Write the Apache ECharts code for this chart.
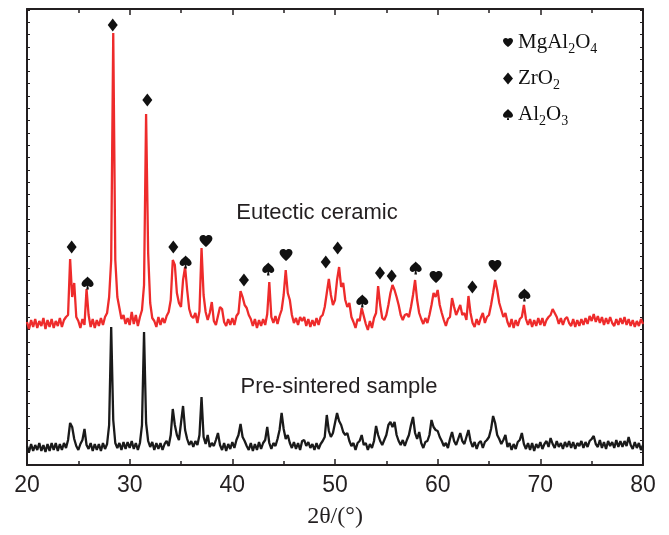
<!DOCTYPE html>
<html>
<head>
<meta charset="utf-8">
<script src="https://cdn.jsdelivr.net/npm/echarts@6/dist/echarts.min.js"></script>
<style>
html, body { margin: 0; padding: 0; background: #fff; }
#chart { width: 669px; height: 535px; }
</style>
</head>
<body>
<div id="chart"></div>
<script>
// 2θ sampling of the scans (degrees)
const thetaStart = 20
const thetaStep = 0.2

// Eutectic ceramic, intensity (arb. units), one value per 0.2°
const eutectic = [
  143, 136, 145, 138, 146, 137, 144, 139, 147, 136,
  145, 138, 146, 137, 144, 139, 147, 138, 145, 148,
  150, 206, 168, 182, 148, 144, 137, 146, 140, 176,
  150, 138, 146, 137, 145, 139, 147, 140, 148, 152,
  168, 205, 432, 205, 168, 157, 146, 150, 141, 147,
  140, 153, 141, 150, 139, 148, 155, 180, 351, 212,
  162, 147, 144, 138, 148, 140, 147, 142, 149, 153,
  165, 205, 200, 172, 162, 158, 185, 198, 175, 156,
  149, 147, 152, 142, 154, 217, 170, 153, 145, 152,
  163, 144, 140, 149, 158, 156, 143, 139, 146, 140,
  147, 140, 149, 152, 174, 168, 160, 157, 150, 146,
  139, 146, 137, 145, 139, 146, 140, 151, 183, 148,
  142, 149, 141, 149, 155, 170, 195, 172, 165, 150,
  142, 147, 140, 148, 144, 148, 139, 146, 138, 145,
  139, 147, 140, 148, 150, 158, 172, 186, 170, 160,
  165, 185, 198, 178, 182, 165, 158, 162, 148, 143,
  137, 146, 144, 157, 149, 141, 135, 144, 137, 147,
  152, 179, 160, 147, 145, 150, 160, 172, 180, 175,
  168, 160, 150, 145, 150, 151, 148, 158, 170, 185,
  165, 152, 146, 141, 147, 142, 150, 160, 172, 168,
  175, 160, 152, 145, 139, 146, 148, 167, 158, 150,
  155, 160, 150, 152, 145, 169, 152, 142, 138, 146,
  140, 147, 152, 142, 148, 150, 160, 172, 185, 175,
  162, 155, 148, 152, 143, 138, 146, 137, 145, 139,
  146, 148, 160, 146, 140, 146, 138, 145, 139, 147,
  140, 147, 139, 145, 148, 150, 156, 152, 148, 141,
  147, 140, 146, 148, 142, 139, 146, 138, 145, 139,
  146, 140, 147, 141, 149, 144, 151, 143, 149, 142,
  148, 140, 147, 141, 148, 142, 139, 146, 140, 147,
  141, 148, 140, 146, 139, 145, 138, 144, 139, 146,
  141
]

// Pre-sintered sample, intensity (arb. units), one value per 0.2°
const presintered = [
  19, 13, 21, 14, 20, 15, 22, 14, 20, 13,
  21, 14, 22, 15, 22, 14, 21, 15, 22, 17,
  25, 42, 38, 26, 19, 15, 21, 25, 36, 20,
  16, 22, 14, 21, 15, 21, 14, 22, 16, 21,
  40, 138, 45, 22, 17, 22, 15, 23, 16, 23,
  17, 24, 16, 22, 15, 22, 40, 133, 42, 24,
  18, 23, 15, 22, 16, 22, 15, 21, 24, 19,
  30, 56, 40, 30, 25, 42, 59, 35, 26, 20,
  24, 18, 24, 20, 30, 68, 28, 21, 30, 18,
  22, 19, 25, 32, 20, 15, 22, 14, 21, 16,
  23, 17, 25, 30, 41, 28, 24, 19, 15, 22,
  14, 21, 15, 23, 16, 22, 25, 38, 22, 16,
  22, 19, 26, 35, 52, 36, 26, 30, 22, 17,
  23, 16, 22, 15, 24, 25, 19, 23, 17, 21,
  15, 22, 16, 21, 24, 28, 50, 34, 28, 32,
  42, 52, 44, 40, 33, 30, 32, 24, 19, 22,
  15, 22, 24, 30, 20, 22, 15, 21, 17, 24,
  39, 30, 24, 20, 25, 30, 40, 43, 38, 43,
  30, 24, 20, 25, 19, 25, 30, 40, 48, 32,
  26, 33, 22, 17, 23, 24, 30, 45, 38, 35,
  34, 28, 24, 19, 22, 17, 26, 33, 24, 20,
  26, 32, 24, 21, 28, 35, 24, 18, 23, 16,
  22, 24, 17, 23, 25, 28, 36, 49, 42, 30,
  26, 21, 25, 30, 18, 22, 15, 21, 16, 23,
  25, 32, 21, 16, 22, 15, 22, 14, 21, 17,
  23, 16, 21, 24, 18, 27, 21, 17, 24, 18,
  22, 16, 23, 18, 24, 17, 23, 16, 22, 19,
  24, 17, 23, 18, 24, 26, 29, 21, 18, 25,
  17, 23, 16, 24, 19, 23, 17, 25, 18, 24,
  18, 24, 19, 28, 20, 16, 23, 17, 22, 15,
  20
]

// phase markers above the eutectic peaks: [2θ, height]
const spinelPeaks = [[37.43, 224], [45.23, 210], [59.84, 188], [65.58, 199]]
const zirconiaPeaks = [[24.35, 218], [28.35, 440], [31.72, 365], [34.25, 218], [41.13, 185],
  [49.1, 203], [50.26, 217], [54.38, 192], [55.52, 189], [63.38, 178]]
const aluminaPeaks = [[25.9, 182], [35.45, 203], [43.5, 196], [52.66, 164], [57.86, 197], [68.45, 170]]

const xTicks = { min: 20, max: 80, interval: 10 }

const heartPath = 'path://M12 21.35l-1.45-1.32C5.4 15.36 2 12.28 2 8.5 2 5.42 4.42 3 7.5 3c1.74 0 3.41.81 4.5 2.09C13.09 3.81 14.76 3 16.5 3 19.58 3 22 5.42 22 8.5c0 3.78-3.4 6.86-8.55 11.54L12 21.35z'
const spadePath = 'path://M12 2C9 6 3 9 3 13.5 3 16 5 18 7.5 18c1.5 0 2.7-.6 3.5-1.6L10 22h4l-1-5.6c.8 1 2 1.6 3.5 1.6 2.5 0 4.5-2 4.5-4.5C21 9 15 6 12 2z'

const toPairs = arr => arr.map((v, i) => [+(thetaStart + i * thetaStep).toFixed(1), v])

const ink = '#231f20'
const frameAxisX = (pos) => ({
  type: 'value',
  position: pos,
  min: xTicks.min,
  max: xTicks.max,
  interval: xTicks.interval,
  axisLine: { show: true, onZero: false, lineStyle: { color: ink, width: 2 } },
  axisTick: { show: true, inside: true, length: 6, lineStyle: { color: ink, width: 1.5 } },
  minorTick: { show: true, splitNumber: 2, length: 4, lineStyle: { color: ink, width: 1.5 } },
  axisLabel: pos === 'bottom' ? {
    show: true, margin: 9, color: ink, fontSize: 23, fontFamily: 'Liberation Sans'
  } : { show: false },
  splitLine: { show: false }
})
const frameAxisY = (pos) => ({
  type: 'value',
  position: pos,
  min: 0,
  max: 456,
  interval: 12.3,
  axisLine: { show: true, onZero: false, lineStyle: { color: ink, width: 2 } },
  axisTick: { show: true, inside: true, length: 3, lineStyle: { color: ink, width: 1 } },
  axisLabel: { show: false },
  splitLine: { show: false }
})

const legendNames = {
  MgAl2O4: '{a|MgAl}{b|2}{a|O}{b|4}',
  ZrO2: '{a|ZrO}{b|2}',
  Al2O3: '{a|Al}{b|2}{a|O}{b|3}'
}

const markerSeries = (name, data, symbol, size) => ({
  name: name,
  type: 'scatter',
  symbol: symbol,
  symbolSize: size,
  itemStyle: { color: '#111', opacity: 1 },
  data: data,
  z: 5
})

const myChart = echarts.init(document.getElementById('chart'))
myChart.setOption({
  animation: false,
  grid: { left: 27, right: 26, top: 9, bottom: 70 },
  xAxis: [
    Object.assign(frameAxisX('bottom'), {
      name: '2θ/(°)',
      nameLocation: 'middle',
      nameGap: 40,
      nameTextStyle: { color: ink, fontSize: 24, fontFamily: 'Liberation Serif' }
    }),
    frameAxisX('top')
  ],
  yAxis: [frameAxisY('left'), frameAxisY('right')],
  legend: {
    data: [
      { name: 'MgAl2O4', icon: heartPath },
      { name: 'ZrO2', icon: 'diamond' },
      { name: 'Al2O3', icon: spadePath }
    ],
    orient: 'vertical',
    left: 498,
    top: 27,
    itemWidth: 10,
    itemHeight: 12,
    itemGap: 12,
    formatter: n => legendNames[n],
    textStyle: {
      color: '#111',
      rich: {
        a: { fontSize: 21, fontFamily: 'Liberation Serif', color: '#111', lineHeight: 24 },
        b: { fontSize: 14, fontFamily: 'Liberation Serif', color: '#111', padding: [13, 0, 0, 0] }
      }
    }
  },
  graphic: [
    {
      type: 'text', x: 317, y: 213,
      style: {
        text: 'Eutectic ceramic', fill: ink, fontSize: 22, fontFamily: 'Liberation Sans',
        align: 'center', verticalAlign: 'middle'
      }
    },
    {
      type: 'text', x: 339, y: 387,
      style: {
        text: 'Pre-sintered sample', fill: ink, fontSize: 22, fontFamily: 'Liberation Sans',
        align: 'center', verticalAlign: 'middle'
      }
    }
  ],
  series: [
    {
      name: 'Pre-sintered sample',
      type: 'line',
      data: toPairs(presintered),
      showSymbol: false,
      lineStyle: { color: '#1a1a1a', width: 2.3 },
      z: 2
    },
    {
      name: 'Eutectic ceramic',
      type: 'line',
      data: toPairs(eutectic),
      showSymbol: false,
      lineStyle: { color: '#ee2b2b', width: 2.3 },
      z: 3
    },
    markerSeries('MgAl2O4', spinelPeaks, heartPath, [13, 12]),
    markerSeries('ZrO2', zirconiaPeaks, 'diamond', [10, 13]),
    markerSeries('Al2O3', aluminaPeaks, spadePath, [12, 13])
  ]
})
</script>
</body>
</html>
